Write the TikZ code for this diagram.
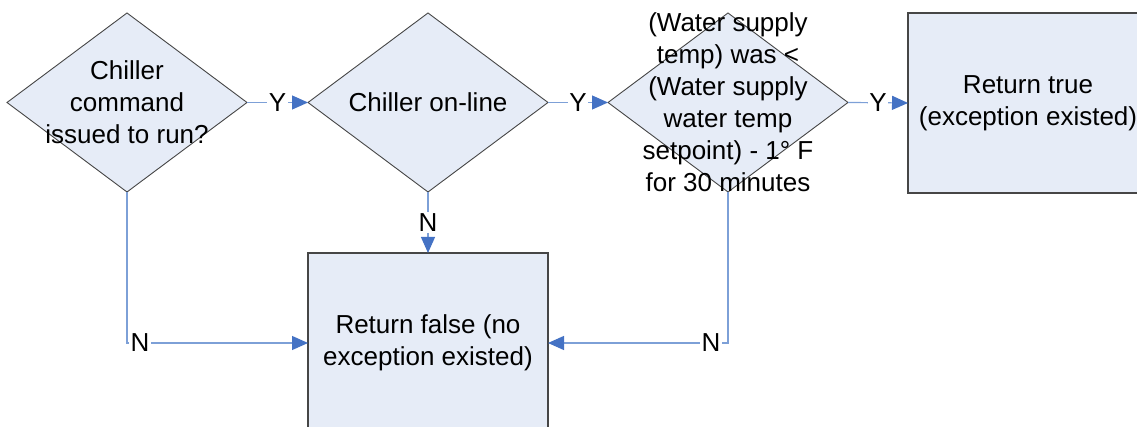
\documentclass[tikz,border=0pt]{standalone}
\usepackage{fontspec}
\setmainfont{Liberation Sans}
\usetikzlibrary{shapes.geometric,arrows.meta}
\definecolor{shapefill}{RGB}{230,236,247}
\definecolor{shapeedge}{RGB}{70,70,70}
\definecolor{linkblue}{RGB}{125,160,215}
\definecolor{tipblue}{RGB}{68,114,196}
\tikzset{
  x=1pt, y=1pt,
  every node/.style={font=\fontsize{26}{32}\selectfont},
  decision/.style={diamond, draw=shapeedge, fill=shapefill, line width=0.9pt,
    minimum width=240pt, minimum height=179pt, inner sep=0pt, outer sep=0pt},
  action/.style={rectangle, draw=shapeedge, fill=shapefill, line width=1.4pt,
    minimum width=240pt, minimum height=180pt, inner sep=0pt, outer sep=0pt,
    align=center},
  caption/.style={align=center, inner sep=0pt},
  link/.style={draw=linkblue, line width=1.2pt,
    -{Triangle[length=16pt,width=14pt,color=tipblue]}},
  answer/.style={fill=white, inner sep=1.5pt}
}
\begin{document}
\begin{tikzpicture}
  \useasboundingbox (0,0) rectangle (1137,427);

  % decisions along the top row
  \node[decision] (cmd) at (127,324.5) {};
  \node[caption] at (cmd) {Chiller\\command\\issued to run?};
  \node[decision] (online) at (428,324.5) {};
  \node[caption] at (online) {Chiller on-line};
  \node[decision] (temp) at (728,324.5) {};
  \node[caption] at (temp) {(Water supply\\temp) was <\\(Water supply\\water temp\\setpoint) - 1° F\\for 30 minutes};

  % outcomes
  \node[action] (rtrue) at (1028,324) {Return true\\(exception existed)};
  \node[action] (rfalse) at (428,84) {Return false (no\\exception existed)};

  % yes branches
  \draw[link] (cmd.east) -- node[answer] {Y} (online.west);
  \draw[link] (online.east) -- node[answer] {Y} (temp.west);
  \draw[link] (temp.east) -- node[answer] {Y} (rtrue.west);

  % no branches
  \draw[link] (online.south) -- node[answer] {N} (rfalse.north);
  \draw[link] (cmd.south) |- node[answer, pos=0.536] {N} (rfalse.west);
  \draw[link] (temp.south) |- node[answer, pos=0.547] {N} (rfalse.east);
\end{tikzpicture}
\end{document}
